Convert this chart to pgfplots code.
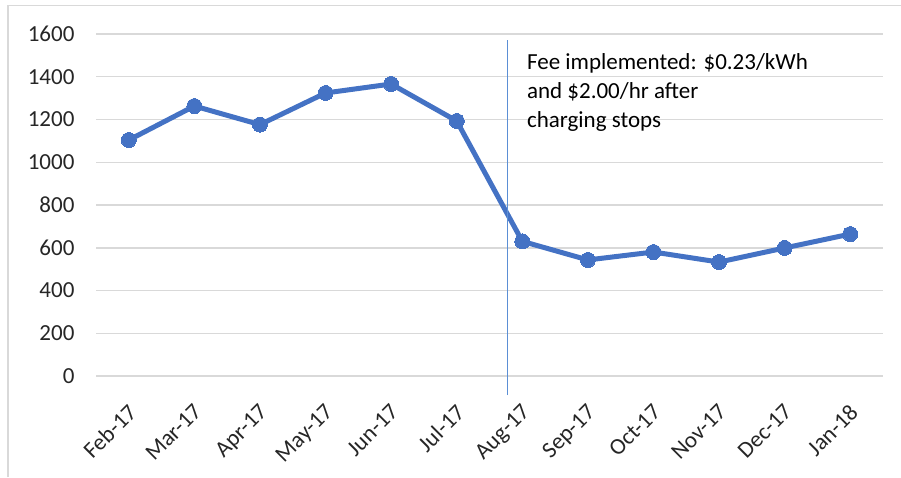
\documentclass[border=0pt]{standalone}
\usepackage{pgfplots}
\pgfplotsset{compat=1.18}
\usepackage{fontspec}
\setmainfont{Carlito}
\definecolor{lineblue}{HTML}{4472C4}
\definecolor{vblue}{HTML}{5B8FD5}
\definecolor{gridgray}{HTML}{D9D9D9}
\begin{document}
\begin{tikzpicture}[x=1pt,y=1pt]
\path[use as bounding box] (0,0) rectangle (901,477);
\draw[gridgray, line width=1.5pt] (8,0) -- (8,471.5) -- (901,471.5);
\begin{axis}[
  at={(96pt,101pt)}, anchor=south west,
  scale only axis, width=787pt, height=342pt,
  xmin=-0.5, xmax=11.5, ymin=0, ymax=1600,
  ytick={0,200,...,1600},
  xtick={0,...,11},
  xticklabels={Feb-17,Mar-17,Apr-17,May-17,Jun-17,Jul-17,Aug-17,Sep-17,Oct-17,Nov-17,Dec-17,Jan-18},
  ymajorgrids, grid style={gridgray, line width=1.5pt},
  axis line style={draw=none},
  major tick length=0pt,
  tick label style={font=\fontsize{23}{27}\selectfont, text=black!85},
  yticklabel style={xshift=-18pt},
  xticklabel style={xshift=-2pt, yshift=-22pt, rotate=45, anchor=north east},
  /pgf/number format/assume math mode=true,
  /pgf/number format/1000 sep={},
  clip=false,
]
\addplot[lineblue, line width=5pt, mark=*, mark size=7.5pt, mark options={line width=0pt, fill=lineblue}]
coordinates {
(0,1104) (1,1263) (2,1176) (3,1324) (4,1366) (5,1193)
(6,630) (7,543) (8,580) (9,533) (10,599) (11,664)
};
\addplot[vblue, line width=1.2pt, mark=none] coordinates {(5.77,-89) (5.77,1572)};
\node[anchor=north west, align=left, inner sep=0pt, font=\fontsize{23}{29}\selectfont, text=black]
  at (axis cs:6.07,1510) {Fee implemented: \$0.23/kWh\\and \$2.00/hr after\\charging stops};
\end{axis}
\end{tikzpicture}
\end{document}
